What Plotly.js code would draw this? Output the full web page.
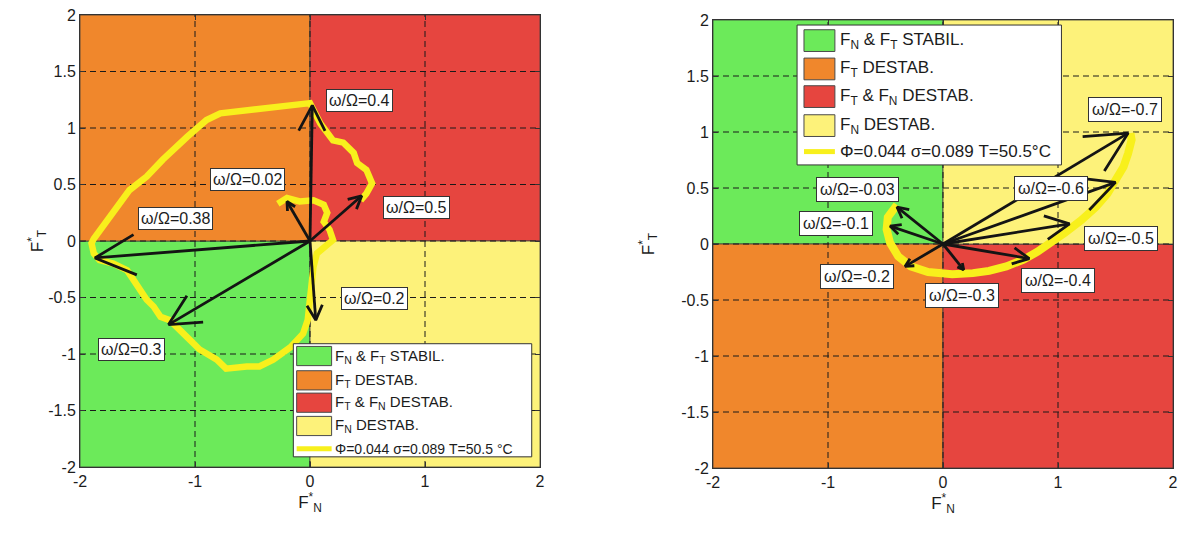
<!DOCTYPE html>
<html><head><meta charset="utf-8">
<script src="https://cdn.plot.ly/plotly-3.0.1.min.js"></script>
<style>html,body{margin:0;padding:0;background:#fff}</style>
</head><body><div id="chart" style="width:1182px;height:536px"></div>
<script>
// ---------------- data ----------------
const axisRange = [-2, 2];
const xTicks = [-2, -1, 0, 1, 2];
const xTickText = ['-2', '-1', '0', '1', '2'];
const yTicks = [-2, -1.5, -1, -0.5, 0, 0.5, 1, 1.5, 2];
const yTickText = ['-2', '-1.5', '-1', '-0.5', '0', '0.5', '1', '1.5', '2'];

const regionNames = ['F<sub>N</sub> & F<sub>T</sub> STABIL.', 'F<sub>T</sub> DESTAB.', 'F<sub>T</sub> & F<sub>N</sub> DESTAB.', 'F<sub>N</sub> DESTAB.'];
const regionColors = ['#6cea5a', '#f0872c', '#e6453f', '#fdf27a'];
// quadrant (sign of F_N, sign of F_T) of each region
const leftQuadX = [-1, -1, 1, 1];
const leftQuadY = [-1, 1, 1, -1];
const rightQuadX = [-1, -1, 1, 1];
const rightQuadY = [1, -1, -1, 1];

const curveNameLeft = 'Φ=0.044 σ=0.089 T=50.5 °C';
const curveNameRight = 'Φ=0.044 σ=0.089 T=50.5°C';

const leftCurveX = [-0.28,-0.20,-0.09,0.03,0.12,0.15,0.12,0.17,0.20,0.12,0.06,0.03,0.01,0.00,-0.02,-0.06,-0.17,-0.32,-0.44,-0.55,-0.73,-0.81,-0.96,-1.04,-1.13,-1.22,-1.30,-1.36,-1.42,-1.48,-1.54,-1.59,-1.71,-1.83,-1.88,-1.90,-1.88,-1.74,-1.57,-1.42,-1.28,-1.07,-0.90,-0.78,-0.44,-0.15,0.00,0.09,0.15,0.20,0.29,0.38,0.41,0.49,0.54,0.49,0.44];
const leftCurveY = [0.33,0.38,0.35,0.36,0.32,0.25,0.17,0.10,0.01,-0.07,-0.11,-0.23,-0.40,-0.58,-0.70,-0.82,-0.94,-1.05,-1.11,-1.11,-1.13,-1.05,-0.96,-0.88,-0.79,-0.70,-0.67,-0.58,-0.52,-0.43,-0.35,-0.26,-0.20,-0.17,-0.11,-0.02,0.02,0.22,0.45,0.57,0.72,0.92,1.07,1.13,1.17,1.20,1.22,1.04,0.95,0.89,0.87,0.78,0.69,0.63,0.51,0.42,0.36];

const rightCurveX = [-0.40,-0.48,-0.49,-0.46,-0.39,-0.28,-0.13,0.08,0.26,0.40,0.55,0.70,0.82,0.94,1.06,1.20,1.33,1.43,1.51,1.57,1.61,1.64,1.63];
const rightCurveY = [0.35,0.24,0.13,0.01,-0.11,-0.20,-0.25,-0.27,-0.26,-0.24,-0.20,-0.14,-0.07,0.01,0.10,0.21,0.33,0.45,0.57,0.69,0.81,0.93,0.99];

const leftOmega = ['0.4', '0.02', '0.5', '0.38', '0.3', '0.2'];
const leftTipX = [0.02, -0.20, 0.45, -1.87, -1.23, 0.05];
const leftTipY = [1.20, 0.35, 0.40, -0.15, -0.74, -0.70];
const leftLabelX = [0.43, -0.54, 0.93, -1.17, -1.55, 0.56];
const leftLabelY = [1.24, 0.54, 0.30, 0.195, -0.96, -0.51];

const rightOmega = ['-0.7', '-0.6', '-0.5', '-0.4', '-0.3', '-0.2', '-0.1', '-0.03'];
const rightTipX = [1.61, 1.50, 1.10, 0.75, 0.18, -0.33, -0.46, -0.40];
const rightTipY = [0.99, 0.55, 0.18, -0.13, -0.23, -0.20, 0.16, 0.33];
const rightLabelX = [1.58, 0.94, 1.55, 1.00, 0.165, -0.75, -0.93, -0.74];
const rightLabelY = [1.205, 0.50, 0.045, -0.33, -0.46, -0.29, 0.18, 0.49];

// ---------------- styling ----------------
const FONT = 'Liberation Sans, Arial, Helvetica, sans-serif';
const TXT = '#1c1c1c';
const CURVE_COLOR = '#f8f01c';
const HEAD_RATIO = 0.21;
const HEAD_ANGLE = 27 * Math.PI / 180;

const traces = [];
function addPlot(xa, ya, qx, qy, cx, cy, cw, tipX, tipY) {
  const m = axisRange[1];
  for (let i = 0; i < regionNames.length; i++) {
    traces.push({type: 'scatter', mode: 'lines', xaxis: xa, yaxis: ya,
      x: [0, qx[i] * m, qx[i] * m, 0, 0], y: [0, 0, qy[i] * m, qy[i] * m, 0],
      fill: 'toself', fillcolor: regionColors[i], line: {color: '#3c3c3c', width: 0.8},
      name: regionNames[i], showlegend: false, hoverinfo: 'skip'});
  }
  const gx = [], gy = [];
  xTicks.filter(v => Math.abs(v) < m).forEach(v => { gx.push(v, v, null); gy.push(axisRange[0], axisRange[1], null); });
  yTicks.filter(v => Math.abs(v) < m).forEach(v => { gx.push(axisRange[0], axisRange[1], null); gy.push(v, v, null); });
  traces.push({type: 'scatter', mode: 'lines', xaxis: xa, yaxis: ya, x: gx, y: gy,
    line: {color: '#1a1a1a', width: 1, dash: '6px,4px'}, showlegend: false, hoverinfo: 'skip'});
  traces.push({type: 'scatter', mode: 'lines', xaxis: xa, yaxis: ya, x: cx, y: cy,
    line: {color: CURVE_COLOR, width: cw}, showlegend: false, hoverinfo: 'skip'});
  for (let i = 0; i < tipX.length; i++) {
    const tx = tipX[i], ty = tipY[i];
    const L = Math.hypot(tx, ty), ux = tx / L, uy = ty / L, h = HEAD_RATIO * L;
    const c = Math.cos(HEAD_ANGLE), s = Math.sin(HEAD_ANGLE);
    const b1x = tx - h * (ux * c - uy * s), b1y = ty - h * (ux * s + uy * c);
    const b2x = tx - h * (ux * c + uy * s), b2y = ty - h * (-ux * s + uy * c);
    traces.push({type: 'scatter', mode: 'lines', xaxis: xa, yaxis: ya,
      x: [0, tx, null, b1x, tx, b2x], y: [0, ty, null, b1y, ty, b2y],
      line: {color: '#141414', width: 2.8}, showlegend: false, hoverinfo: 'skip'});
  }
}
addPlot('x', 'y', leftQuadX, leftQuadY, leftCurveX, leftCurveY, 6.5, leftTipX, leftTipY);
addPlot('x2', 'y2', rightQuadX, rightQuadY, rightCurveX, rightCurveY, 8, rightTipX, rightTipY);

const annotations = [];
const shapes = [];
function addLabels(xr, yr, om, lx, ly, fs, pad) {
  for (let i = 0; i < om.length; i++) {
    annotations.push({xref: xr, yref: yr, x: lx[i], y: ly[i], text: 'ω/Ω=' + om[i], showarrow: false,
      bgcolor: '#ffffff', bordercolor: '#333', borderwidth: 1, borderpad: pad,
      font: {family: FONT, size: fs, color: TXT}});
  }
}
addLabels('x', 'y', leftOmega, leftLabelX, leftLabelY, 16, 2);
addLabels('x2', 'y2', rightOmega, rightLabelX, rightLabelY, 16, 3);

// hand-drawn legends (box, swatches, texts) placed in each subplot's data frame
function addLegend(xr, yr, box, swX, rows, halfH, lineY, textX, fs, fsCurve, curveName) {
  shapes.push({type: 'rect', xref: xr, yref: yr, x0: box[0], x1: box[1], y0: box[2], y1: box[3],
    fillcolor: '#ffffff', line: {color: '#333', width: 1}, layer: 'above'});
  for (let i = 0; i < regionNames.length; i++) {
    shapes.push({type: 'rect', xref: xr, yref: yr, x0: swX[0], x1: swX[1], y0: rows[i] - halfH, y1: rows[i] + halfH,
      fillcolor: regionColors[i], line: {color: '#4a4a4a', width: 1}, layer: 'above'});
    annotations.push({xref: xr, yref: yr, x: textX, y: rows[i], xanchor: 'left', yanchor: 'middle',
      text: regionNames[i], showarrow: false, font: {family: FONT, size: fs, color: TXT}});
  }
  shapes.push({type: 'line', xref: xr, yref: yr, x0: swX[0], x1: swX[1], y0: lineY, y1: lineY,
    line: {color: CURVE_COLOR, width: 5}, layer: 'above'});
  annotations.push({xref: xr, yref: yr, x: textX, y: lineY, xanchor: 'left', yanchor: 'middle',
    text: curveName, showarrow: false, font: {family: FONT, size: fsCurve, color: TXT}});
}
addLegend('x', 'y', [-0.145, 1.928, -1.91, -0.909], [-0.116, 0.188], [-1.018, -1.233, -1.431, -1.637], 0.085, -1.838, 0.2, 15, 14, curveNameLeft);
addLegend('x2', 'y2', [-1.269, 1.03, 0.706, 1.955], [-1.209, -0.94], [1.816, 1.563, 1.316, 1.057], 0.097, 0.825, -0.91, 17, 17, curveNameRight);

function xAxis(dom, anchor) {
  return {domain: dom, anchor: anchor, range: axisRange, tickvals: xTicks, ticktext: xTickText,
    ticks: 'inside', ticklen: 5, tickcolor: '#333', showline: true, linecolor: '#333', linewidth: 1,
    mirror: 'ticks', showgrid: false, zeroline: false, automargin: false, fixedrange: true,
    tickfont: {family: FONT, size: 16, color: TXT},
    title: {text: 'F<sup>*</sup><sub>N</sub>', standoff: 4, font: {family: FONT, size: 17, color: TXT}}};
}
function yAxis(dom, anchor, standoff) {
  return {domain: dom, anchor: anchor, range: axisRange, tickvals: yTicks, ticktext: yTickText,
    ticks: 'inside', ticklen: 5, tickcolor: '#333', showline: true, linecolor: '#333', linewidth: 1,
    mirror: 'ticks', showgrid: false, zeroline: false, automargin: false, fixedrange: true,
    tickfont: {family: FONT, size: 16, color: TXT},
    title: {text: 'F<sup>*</sup><sub>T</sub>', standoff: standoff, font: {family: FONT, size: 17, color: TXT}}};
}

const layout = {
  width: 1182, height: 536, margin: {l: 0, r: 0, t: 0, b: 0},
  paper_bgcolor: '#ffffff', plot_bgcolor: '#ffffff', showlegend: false,
  xaxis: xAxis([80 / 1182, 540 / 1182], 'y'),
  yaxis: yAxis([1 - 467 / 536, 1 - 15 / 536], 'x', 0),
  xaxis2: xAxis([713 / 1182, 1173 / 1182], 'y2'),
  yaxis2: yAxis([1 - 468 / 536, 1 - 20 / 536], 'x2', 22),
  annotations: annotations, shapes: shapes
};
Plotly.newPlot('chart', traces, layout, {displayModeBar: false});
</script>
</body></html>
